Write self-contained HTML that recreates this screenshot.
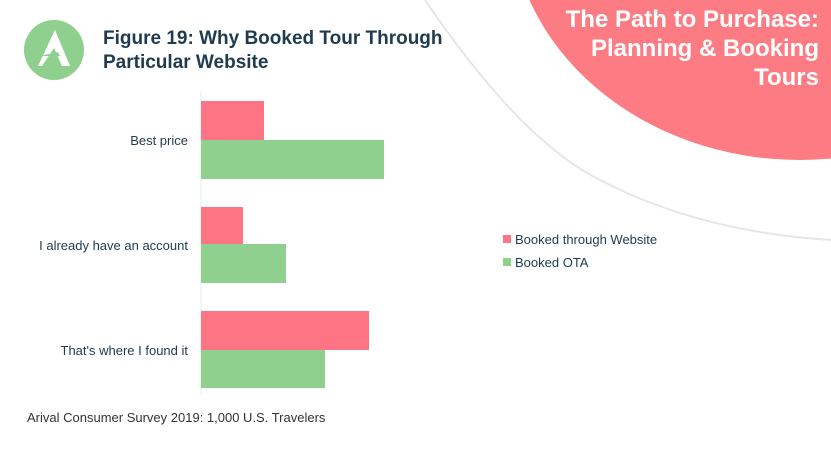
<!DOCTYPE html>
<html><head><style>
body{margin:0;width:831px;height:449px;overflow:hidden;background:#fff;font-family:"Liberation Sans",sans-serif;position:relative}
.t{position:absolute;white-space:nowrap}
</style></head><body>
<svg width="831" height="449" style="position:absolute;left:0;top:0">
<path d="M425,0 Q520,140 600,180 Q700,232 831,240" fill="none" stroke="#e6e6e6" stroke-width="2"/>
<ellipse cx="800" cy="-90" rx="290" ry="250" fill="#fd7b83"/>
<circle cx="54" cy="50" r="30" fill="#8fd08f"/>
<path d="M55,30 L70,66 L62,66 L54,48 L42,66 L38,66 Z" fill="#fff"/>
<path d="M40,56 L58,52 L60,56 Z" fill="#8fd08f"/>
<line x1="201" y1="92" x2="201" y2="395" stroke="#e0eef0" stroke-width="1"/>
<rect x="201" y="101" width="63" height="39" fill="#fd7585"/>
<rect x="201" y="140" width="183" height="39" fill="#8fd08f"/>
<rect x="201" y="207" width="42" height="37" fill="#fd7585"/>
<rect x="201" y="244" width="85" height="39" fill="#8fd08f"/>
<rect x="201" y="311" width="168" height="39" fill="#fd7585"/>
<rect x="201" y="350" width="124" height="38" fill="#8fd08f"/>
<rect x="503" y="235" width="8" height="8" fill="#fd7585"/>
<rect x="503" y="258" width="8" height="8" fill="#8fd08f"/>
</svg>
<div class="t" style="left:103px;top:27px;font-size:19px;font-weight:bold;color:#1f3b4d;line-height:24px">Figure 19: Why Booked Tour Through<br>Particular Website</div>
<div class="t" style="right:12px;top:5px;font-size:24px;font-weight:bold;color:#fff;line-height:29px;text-align:right">The Path to Purchase:<br>Planning &amp; Booking<br>Tours</div>
<div class="t" style="right:643px;top:133px;font-size:13px;color:#1f3b4d">Best price</div>
<div class="t" style="right:643px;top:238px;font-size:13px;color:#1f3b4d">I already have an account</div>
<div class="t" style="right:643px;top:343px;font-size:13px;color:#1f3b4d">That's where I found it</div>
<div class="t" style="left:515px;top:232px;font-size:13px;color:#1f3b4d">Booked through Website</div>
<div class="t" style="left:515px;top:255px;font-size:13px;color:#1f3b4d">Booked OTA</div>
<div class="t" style="left:27px;top:410px;font-size:13px;color:#333">Arival Consumer Survey 2019: 1,000 U.S. Travelers</div>
</body></html>
